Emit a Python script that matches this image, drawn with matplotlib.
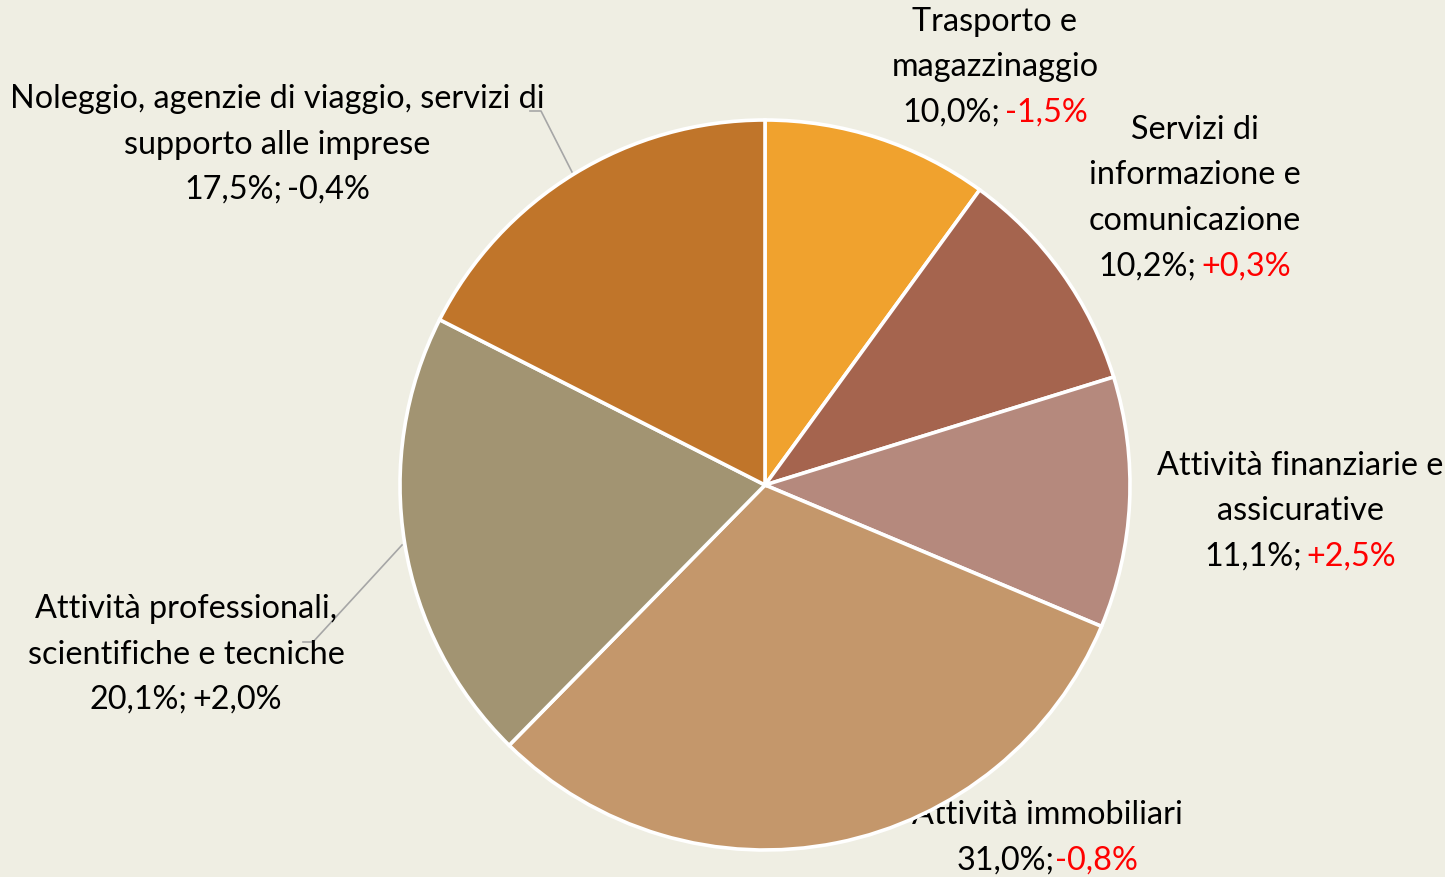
import matplotlib
matplotlib.use("Agg")
import matplotlib.pyplot as plt

categories = ["Trasporto e magazzinaggio", "Servizi di informazione e comunicazione",
              "Attività finanziarie e assicurative", "Attività immobiliari",
              "Attività professionali, scientifiche e tecniche",
              "Noleggio, agenzie di viaggio, servizi di supporto alle imprese"]
shares = [10.0, 10.2, 11.1, 31.0, 20.1, 17.5]
share_labels = ["10,0%", "10,2%", "11,1%", "31,0%", "20,1%", "17,5%"]
changes = ["-1,5%", "+0,3%", "+2,5%", "-0,8%", "+2,0%", "-0,4%"]
change_red = [True, True, True, True, False, False]
name_lines = [["Trasporto e", "magazzinaggio"],
              ["Servizi di", "informazione e", "comunicazione"],
              ["Attività finanziarie e", "assicurative"],
              ["Attività immobiliari"],
              ["Attività professionali,", "scientifiche e tecniche"],
              ["Noleggio, agenzie di viaggio, servizi di", "supporto alle imprese"]]
separators = ["; ", "; ", "; ", ";", "; ", "; "]
colors = ["#F0A22E", "#A5644E", "#B5897D", "#C4976B", "#A29472", "#C0752A"]

W, H = 1445, 877
BG = "#EFEEE3"
fig = plt.figure(figsize=(W / 100, H / 100), dpi=100, facecolor=BG)
ax = fig.add_axes([0, 0, 1, 1])
ax.set_xlim(0, W)
ax.set_ylim(H, 0)
ax.axis("off")
ax.set_facecolor(BG)

FONT = "Lato"
FS = 23.3

# pie drawn in a separate axes with normal orientation
cx, cy, r = 765, 485, 365
pax = fig.add_axes([(cx - r) / W, 1 - (cy + r) / H, 2 * r / W, 2 * r / H])
pax.pie(shares, colors=colors, startangle=90, counterclock=False, radius=1,
        wedgeprops=dict(edgecolor="white", linewidth=2.6))
pax.set_xlim(-1, 1)
pax.set_ylim(-1, 1)
pax.set_aspect("equal")
pax.axis("off")

# label layout (centre x, first line y) in pixel coordinates
label_pos = [(995, 22), (1195, 130), (1300, 466), (1047, 815), (186, 609), (277, 99)]
LS = 45.5

fig.canvas.draw()
renderer = fig.canvas.get_renderer()


def width_of(s):
    t = ax.text(0, 0, s, fontsize=FS, family=FONT)
    w = t.get_window_extent(renderer).width
    t.remove()
    return w

space_w = (width_of("a a") - width_of("aa")) * 0.6

for i in range(len(shares)):
    x0, y0 = label_pos[i]
    for j, line in enumerate(name_lines[i]):
        ax.text(x0, y0 + j * LS, line, fontsize=FS, family=FONT, ha="center",
                va="center", color="black", zorder=5)
    yl = y0 + len(name_lines[i]) * LS
    first = share_labels[i] + separators[i].strip()
    gap = space_w if separators[i].endswith(" ") else 0
    w1 = width_of(first)
    w2 = width_of(changes[i])
    total = w1 + gap + w2
    left = x0 - total / 2
    ax.text(left, yl, first, fontsize=FS, family=FONT, ha="left", va="center",
            color="black", zorder=5)
    ax.text(left + w1 + gap, yl, changes[i], fontsize=FS, family=FONT, ha="left",
            va="center", color="red" if change_red[i] else "black", zorder=5)

# leader lines
ax.plot([530, 541, 572], [111, 111, 172], color="#A6A6A6", lw=1.2, zorder=4)
ax.plot([303, 313, 402], [642, 642, 545], color="#A6A6A6", lw=1.2, zorder=4)

fig.savefig("out.png", dpi=100, facecolor=BG)
